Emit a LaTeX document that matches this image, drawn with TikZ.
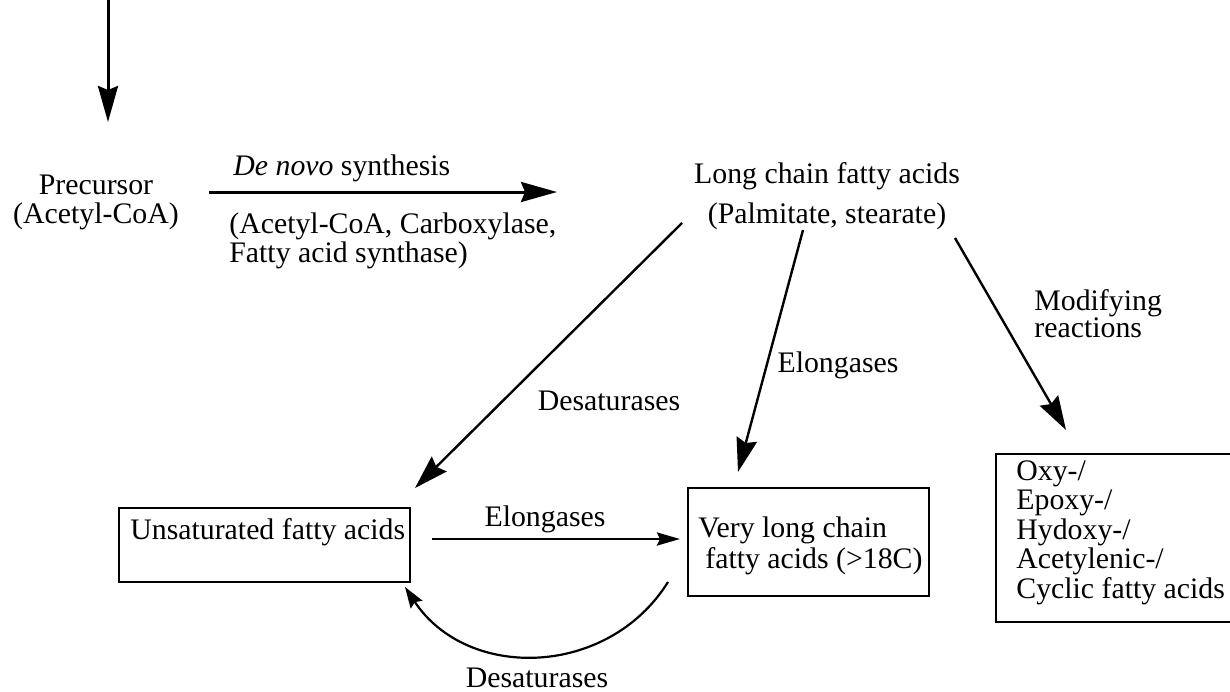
\documentclass[tikz,border=0pt]{standalone}
\usepackage{fontspec}
\setmainfont{Liberation Serif}
\usetikzlibrary{arrows.meta}
\newcommand{\mytab}[3]{\fontsize{14.9}{#1}\selectfont\begin{tabular}[t]{@{}#2@{}}#3\end{tabular}}
\begin{document}
\begin{tikzpicture}[x=0.5pt,y=-0.5pt,
  txt/.style={inner sep=0pt, font=\fontsize{14.9}{17.9}\selectfont},
  box/.style={draw, line width=1.1pt, inner sep=0pt},
  bigarrow/.style={line width=1.5pt, -{Stealth[length=18pt,width=10pt,inset=2pt]}},
  diagarrow/.style={line width=1.2pt, -{Stealth[length=17pt,width=10.5pt,inset=2pt]}},
  smallarrow/.style={line width=1.4pt, -{Stealth[length=11.5pt,width=6.5pt,inset=1.5pt]}},
  curvearrow/.style={line width=1.1pt, -{Stealth[length=10.5pt,width=7pt,inset=1.5pt]}}]
\clip (0,0) rectangle (1230,691);
\fill[white] (0,0) rectangle (1230,691);

% text nodes
\node[txt, anchor=base] (prec) at (96,194) {\mytab{14.5pt}{c}{Precursor\\(Acetyl-CoA)}};
\node[txt, anchor=base west] (denovo) at (233,175) {\textit{De novo} synthesis};
\node[txt, anchor=base west] (enz) at (229,233) {\mytab{14.5pt}{l}{(Acetyl-CoA, Carboxylase,\\Fatty acid synthase)}};
\node[txt, anchor=base] (lcfa) at (827,183) {\mytab{20pt}{c}{Long chain fatty acids\\(Palmitate, stearate)}};
\node[txt, anchor=base] (desat1) at (609,410) {Desaturases};
\node[txt, anchor=base] (elong1) at (838,372) {Elongases};
\node[txt, anchor=base west] (modif) at (1034,310) {\mytab{12.5pt}{l}{Modifying\\reactions}};
\node[txt, anchor=base] (elong2) at (545,526) {Elongases};
\node[txt, anchor=base] (desat2) at (537,687) {Desaturases};

% boxes
\node[box, anchor=north west, minimum width=145.5pt, minimum height=37pt] (unsbox) at (118,507) {};
\node[txt, anchor=base west] (unstxt) at (130,539) {Unsaturated fatty acids};
\node[box, anchor=north west, minimum width=120.5pt, minimum height=54pt] (vlbox) at (687,487) {};
\node[txt, anchor=base west] (vltxt) at (698,537) {\mytab{15.5pt}{l}{Very long chain\\\hspace{3.5pt}fatty acids (>18C)}};
\node[box, anchor=north west, minimum width=122.5pt, minimum height=84pt] (oxybox) at (995,453) {};
\node[txt, anchor=base west] (oxytxt) at (1016,480) {\mytab{14.8pt}{l}{Oxy-/\\Epoxy-/\\Hydoxy-/\\Acetylenic-/\\Cyclic fatty acids}};

% connector end points
\coordinate (topS) at (108,0);
\coordinate (topE) at (108,122);
\coordinate (dnS) at (209,192);
\coordinate (dnE) at (557,192);
\coordinate (d1S) at (682,223);
\coordinate (d1E) at (415,488);
\coordinate (d2S) at (803,230);
\coordinate (d2E) at (738,472);
\coordinate (d3S) at (955,238);
\coordinate (d3E) at (1066,430);
\coordinate (hS) at (432,539);
\coordinate (hE) at (680,539);
\coordinate (cS) at (668,582);
\coordinate (cE) at (405,587);

\draw[bigarrow] (topS) -- (topE);
\draw[bigarrow] (dnS) -- (dnE);
\draw[diagarrow] (d1S) -- (d1E);
\draw[diagarrow] (d2S) -- (d2E);
\draw[diagarrow] (d3S) -- (d3E);
\draw[smallarrow] (hS) -- (hE);
\draw[curvearrow] (cS) .. controls (608,678) and (467,681) .. (cE);
\end{tikzpicture}
\end{document}
